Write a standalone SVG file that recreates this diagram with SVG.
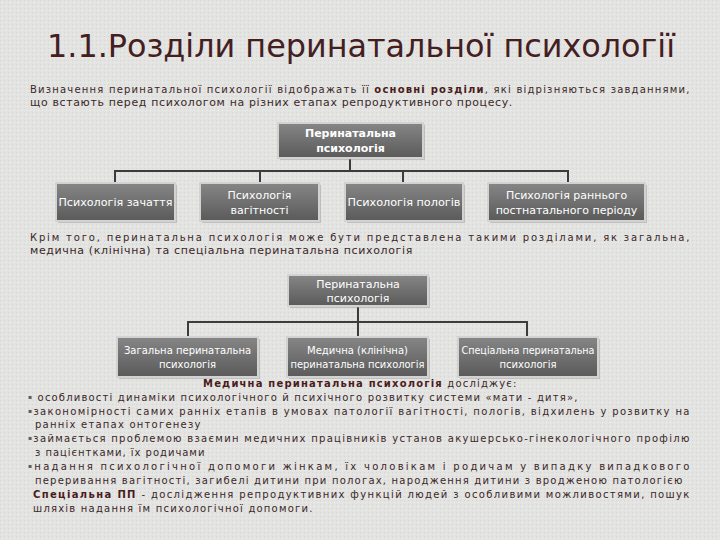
<svg xmlns="http://www.w3.org/2000/svg" width="720" height="540" viewBox="0 0 720 540">
<defs>
<linearGradient id="bx" x1="0" y1="0" x2="0" y2="1">
<stop offset="0" stop-color="#868686"/>
<stop offset="0.5" stop-color="#707070"/>
<stop offset="1" stop-color="#5a5a5a"/>
</linearGradient>
<pattern id="tex" width="4" height="4" patternUnits="userSpaceOnUse">
<rect width="4" height="4" fill="#e3e3e1"/>
<rect x="0" y="0" width="1" height="1" fill="#d6d6d4"/>
<rect x="2" y="2" width="1" height="1" fill="#eeeeec"/>
</pattern>
<style>
.box{fill:url(#bx);stroke:#d2d2d2;stroke-width:2}
.sh{fill:#9a9a9a;opacity:0.5}
.bt{font-family:"DejaVu Sans",sans-serif;font-size:11px;fill:#ffffff;text-anchor:middle;dominant-baseline:central}
.s{font-size:10px}
.bb{font-weight:bold}
.ln{stroke:#3c3c3c;stroke-width:2;fill:none}
.tx{font-family:"DejaVu Sans",sans-serif;font-size:10px;fill:#3a2828;letter-spacing:0.6px}
.b{font-weight:bold;fill:#4a1c1c}
.bl{font-size:6px;baseline-shift:2px;fill:#6a5a5a}
</style>
</defs>
<rect width="720" height="540" fill="url(#tex)"/>
<text x="47" y="57" font-family="DejaVu Sans, sans-serif" font-size="32" fill="#43201f" textLength="628" lengthAdjust="spacingAndGlyphs">1.1.Розділи перинатальної психології</text>
<text class="tx" x="30" y="93" textLength="660" lengthAdjust="spacing">Визначення перинатальної психології відображать її <tspan class="b">основні розділи</tspan>, які відрізняються завданнями,</text>
<text class="tx" x="30" y="106" textLength="483" lengthAdjust="spacingAndGlyphs">що встають перед психологом на різних етапах  репродуктивного процесу.</text>

<g id="connectors1">
<path class="ln" d="M350 158V171M115 183V171H568V183M260 171V183M403 171V183"/>
</g>
<g id="connectors2">
<path class="ln" d="M358 306V322M188 337V322H527V337M358 322V337"/>
</g>

<g id="n-top1">
<rect class="sh" x="280" y="125" width="145" height="35"/>
<rect class="box" x="278" y="123" width="145" height="35"/>
<text class="bt bb" x="350.5" y="133">Перинатальна</text>
<text class="bt bb" x="350.5" y="148">психологія</text>
</g>
<g id="n-zachattia">
<rect class="sh" x="58" y="185" width="119" height="38"/>
<rect class="box" x="56" y="183" width="119" height="38"/>
<text class="bt" x="115.5" y="202" textLength="114" lengthAdjust="spacingAndGlyphs">Психологія зачаття</text>
</g>
<g id="n-vahitnosti">
<rect class="sh" x="202" y="185" width="119" height="38"/>
<rect class="box" x="200" y="183" width="119" height="38"/>
<text class="bt" x="259.5" y="195">Психологія</text>
<text class="bt" x="259.5" y="210">вагітності</text>
</g>
<g id="n-polohiv">
<rect class="sh" x="347" y="185" width="118" height="38"/>
<rect class="box" x="345" y="183" width="118" height="38"/>
<text class="bt" x="404" y="202" textLength="113" lengthAdjust="spacingAndGlyphs">Психологія пологів</text>
</g>
<g id="n-postnatal">
<rect class="sh" x="490" y="185" width="157" height="38"/>
<rect class="box" x="488" y="183" width="157" height="38"/>
<text class="bt" x="566.5" y="195">Психологія раннього</text>
<text class="bt" x="566.5" y="210">постнатального періоду</text>
</g>

<text class="tx" x="30" y="241" textLength="660" lengthAdjust="spacing">Крім того, перинатальна психологія може бути представлена такими розділами, як загальна,</text>
<text class="tx" x="30" y="254" textLength="383" lengthAdjust="spacingAndGlyphs">медична (клінічна)  та спеціальна перинатальна психологія</text>

<g id="n-top2">
<rect class="sh" x="290" y="277" width="140" height="31"/>
<rect class="box" x="288" y="275" width="140" height="31"/>
<text class="bt" x="358" y="284">Перинатальна</text>
<text class="bt" x="358" y="298">психологія</text>
</g>
<g id="n-zahalna">
<rect class="sh" x="119" y="339" width="141" height="40"/>
<rect class="box" x="117" y="337" width="141" height="40"/>
<text class="bt s" x="187.5" y="350">Загальна перинатальна</text>
<text class="bt s" x="187.5" y="364">психологія</text>
</g>
<g id="n-medychna">
<rect class="sh" x="289" y="339" width="141" height="40"/>
<rect class="box" x="287" y="337" width="141" height="40"/>
<text class="bt s" x="357.5" y="350">Медична (клінічна)</text>
<text class="bt s" x="357.5" y="364" textLength="134" lengthAdjust="spacingAndGlyphs">перинатальна психологія</text>
</g>
<g id="n-spetsialna">
<rect class="sh" x="460" y="339" width="140" height="40"/>
<rect class="box" x="458" y="337" width="140" height="40"/>
<text class="bt s" x="528" y="350" textLength="133" lengthAdjust="spacingAndGlyphs">Спеціальна перинатальна</text>
<text class="bt s" x="528" y="364">психологія</text>
</g>

<text class="tx" x="203" y="387" textLength="314" lengthAdjust="spacing"><tspan class="b">Медична перинатальна психологія</tspan> досліджує:</text>
<text class="tx" x="28" y="401" textLength="550" lengthAdjust="spacing"><tspan class="bl">▪</tspan> особливості динаміки психологічного й психічного розвитку системи «мати - дитя»,</text>
<text class="tx" x="28" y="415" textLength="662" lengthAdjust="spacing"><tspan class="bl">▪</tspan>закономірності самих ранніх етапів в умовах патології вагітності, пологів, відхилень у розвитку на</text>
<text class="tx" x="35" y="428" textLength="166" lengthAdjust="spacing">ранніх етапах онтогенезу</text>
<text class="tx" x="28" y="442" textLength="662" lengthAdjust="spacing"><tspan class="bl">▪</tspan>займається проблемою взаємин медичних працівників установ акушерсько-гінекологічного профілю</text>
<text class="tx" x="35" y="456" textLength="170" lengthAdjust="spacing">з пацієнтками, їх родичами</text>
<text class="tx" x="28" y="470" textLength="662" lengthAdjust="spacing"><tspan class="bl">▪</tspan>надання психологічної допомоги жінкам, їх чоловікам і родичам у випадку  випадкового</text>
<text class="tx" x="35" y="484" textLength="648" lengthAdjust="spacing">переривання вагітності, загибелі дитини при пологах, народження дитини з вродженою патологією</text>
<text class="tx" x="33" y="498" textLength="657" lengthAdjust="spacing"><tspan class="b">Спеціальна ПП</tspan> - дослідження репродуктивних функцій людей з особливими можливостями, пошук</text>
<text class="tx" x="33" y="512" textLength="280" lengthAdjust="spacing">шляхів надання їм  психологічної допомоги.</text>
</svg>
